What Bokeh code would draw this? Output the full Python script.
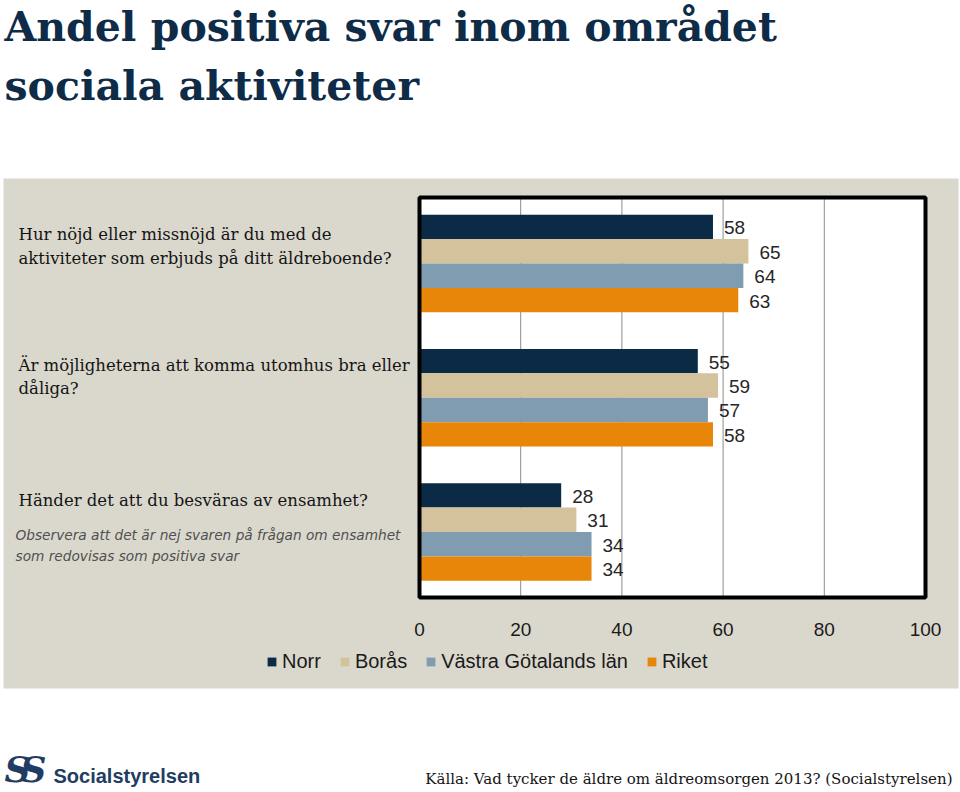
from bokeh.plotting import figure
from bokeh.models import Range1d, Legend, LegendItem, ColumnDataSource
from bokeh.transform import dodge
from bokeh.core.properties import value
from bokeh.embed import file_html
from bokeh.resources import INLINE

# ---------------- data ----------------
title_lines = ["Andel positiva svar inom området", "sociala aktiviteter"]
questions = [
    "Hur nöjd eller missnöjd är du med de\naktiviteter som erbjuds på ditt äldreboende?",
    "Är möjligheterna att komma utomhus bra eller\ndåliga?",
    "Händer det att du besväras av ensamhet?",
]
note = "Observera att det är nej svaren på frågan om ensamhet\nsom redovisas som positiva svar"
series = ["Norr", "Borås", "Västra Götalands län", "Riket"]
norr = [58, 55, 28]
boras = [65, 59, 31]
vastra_gotaland = [64, 57, 34]
riket = [63, 58, 34]
x_ticks = [0, 20, 40, 60, 80, 100]
source_text = "Källa: Vad tycker de äldre om äldreomsorgen 2013? (Socialstyrelsen)"
logo_text = "Socialstyrelsen"

colors = ["#0b2a45", "#d4c29c", "#7f9cb0", "#e8860a"]
navy = "#0e2c48"
beige = "#dad8cd"
logo_blue = "#1f3d63"

# ---------------- layout constants (pixels) ----------------
W, H = 960, 792
PX0, PX100 = 419, 925          # pixel of value 0 and 100
S = (PX100 - PX0) / 100.0
G0, GS = 263.0, 134.25         # pixel of first group centre, group spacing
BH = 24.4 / GS                 # bar height in group units
FRAME_TOP, FRAME_BOT = 197, 597

p = figure(width=W, height=H, x_range=Range1d(0, W), y_range=Range1d(H, 0),
           output_backend="svg", toolbar_location=None, min_border=0,
           x_axis_location=None, y_axis_location=None, outline_line_color=None,
           background_fill_color="white", border_fill_color="white")
p.xgrid.visible = False
p.ygrid.visible = False
p.extra_x_ranges = {"val": Range1d(-PX0 / S, (W - PX0) / S)}
p.extra_y_ranges = {"grp": Range1d((H - G0) / GS, -G0 / GS)}

# beige panel
p.quad(left=[3], right=[958], top=[178], bottom=[688], fill_color=beige, line_color=None)

# plot frame (white) and gridlines
p.quad(left=[x_ticks[0]], right=[x_ticks[-1]], top=[FRAME_TOP], bottom=[FRAME_BOT],
       fill_color="white", line_color=None, x_range_name="val")
p.segment(x0=x_ticks[1:-1], x1=x_ticks[1:-1], y0=[FRAME_TOP] * 4, y1=[FRAME_BOT] * 4,
          line_color="#8c8c8c", line_width=1, x_range_name="val")

num_font = value("Liberation Sans")
renderers = []
for i, (name, vals, col) in enumerate(zip(series, [norr, boras, vastra_gotaland, riket], colors)):
    src = ColumnDataSource(dict(grp=list(range(len(vals))), val=vals, lbl=[str(v) for v in vals]))
    off = (i - 1.5) * BH
    r = p.hbar(y=dodge("grp", off), left=0, right="val", height=BH, source=src,
               fill_color=col, line_color=None, x_range_name="val", y_range_name="grp")
    renderers.append((name, r))
    p.text(x="val", y=dodge("grp", off), text="lbl", source=src, x_offset=11, y_offset=1,
           text_baseline="middle", text_align="left", text_font=num_font,
           text_font_size="19px", text_color="#262626",
           x_range_name="val", y_range_name="grp")

# frame border
p.quad(left=[x_ticks[0]], right=[x_ticks[-1]], top=[FRAME_TOP], bottom=[FRAME_BOT],
       fill_color=None, line_color="black", line_width=4, x_range_name="val")

# x tick labels
p.text(x=x_ticks, y=[629] * len(x_ticks), text=[str(t) for t in x_ticks],
       text_align="center", text_baseline="middle", text_font=num_font,
       text_font_size="19px", text_color="#1a1a1a", x_range_name="val")

# legend
legend = Legend(items=[LegendItem(label=n, renderers=[r]) for n, r in renderers],
                orientation="horizontal", location=(266, H - 673),
                glyph_width=11, glyph_height=11, label_standoff=5, spacing=18,
                padding=0, margin=0, border_line_color=None, background_fill_alpha=0,
                label_text_font="Liberation Sans", label_text_font_size="20px",
                label_text_color="#1a1a1a")
p.add_layout(legend)

# title
p.text(x=[4, 4], y=[26, 85], text=title_lines, text_baseline="middle",
       text_font=value("DejaVu Serif"), text_font_style="bold", text_font_size="41px",
       text_color=navy)

# question labels
p.text(x=[18, 18, 18], y=[246, 376.5, 500], text=questions, text_baseline="middle",
       text_font=value("DejaVu Serif"), text_font_size="16.5px", text_color="#141414",
       text_line_height=1.25)
p.text(x=[15], y=[545], text=[note], text_baseline="middle",
       text_font=value("DejaVu Sans"), text_font_style="italic", text_font_size="13.7px",
       text_color="#505050", text_line_height=1.31)

# footer
p.text(x=[952], y=[778], text=[source_text], text_align="right", text_baseline="middle",
       text_font=value("DejaVu Serif"), text_font_size="15px", text_color="#141414")
p.text(x=[4, 20], y=[768, 768], text=["S", "S"], text_baseline="middle",
       text_font=value("DejaVu Serif"), text_font_style="bold italic",
       text_font_size="36px", text_color=logo_blue)
p.text(x=[53], y=[775], text=[logo_text], text_baseline="middle",
       text_font=value("Liberation Sans"), text_font_style="bold",
       text_font_size="20px", text_color=logo_blue)

open("out.html", "w").write(file_html(p, INLINE))
